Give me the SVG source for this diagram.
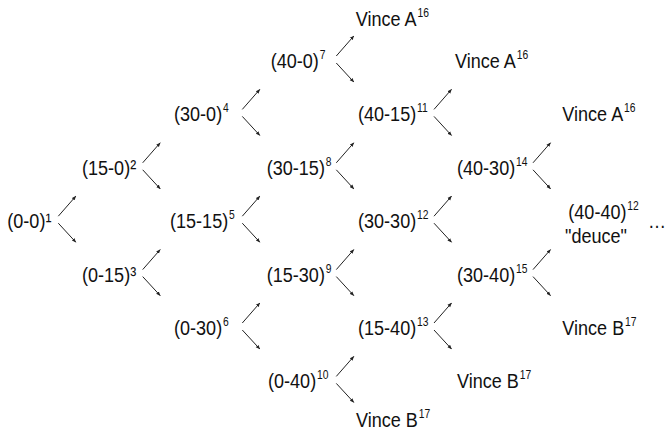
<svg xmlns="http://www.w3.org/2000/svg" width="666" height="434" viewBox="0 0 666 434">
<style>
text{font-family:"Liberation Sans",Arial,sans-serif;font-size:21px;fill:#111}
.s{font-size:12px}
.c line{stroke:#222;stroke-width:1;marker-end:url(#ah)}
</style>
<defs>
<marker id="ah" viewBox="0 0 10 10" refX="9" refY="5" markerWidth="4.5" markerHeight="4.5" orient="auto" markerUnits="userSpaceOnUse">
<path d="M0,1 L10,5 L0,9 z" fill="#222"/>
</marker>
</defs>
<rect width="666" height="434" fill="#fff"/>
<g id="connectors" class="c">
<line x1="58.3" y1="216.2" x2="75.8" y2="196.2"/><line x1="58.3" y1="223.2" x2="75.8" y2="242.2"/>
<line x1="142.7" y1="162.8" x2="160.2" y2="142.8"/><line x1="142.7" y1="169.8" x2="160.2" y2="188.8"/>
<line x1="142.7" y1="269.6" x2="160.2" y2="249.6"/><line x1="142.7" y1="276.6" x2="160.2" y2="295.6"/>
<line x1="242.3" y1="109.4" x2="259.8" y2="89.4"/><line x1="242.3" y1="116.4" x2="259.8" y2="135.4"/>
<line x1="242.3" y1="216.2" x2="259.8" y2="196.2"/><line x1="242.3" y1="223.2" x2="259.8" y2="242.2"/>
<line x1="242.3" y1="323" x2="259.8" y2="303"/><line x1="242.3" y1="330" x2="259.8" y2="349"/>
<line x1="336.3" y1="56" x2="353.8" y2="36"/><line x1="336.3" y1="63" x2="353.8" y2="82"/>
<line x1="336.3" y1="162.8" x2="353.8" y2="142.8"/><line x1="336.3" y1="169.8" x2="353.8" y2="188.8"/>
<line x1="336.3" y1="269.6" x2="353.8" y2="249.6"/><line x1="336.3" y1="276.6" x2="353.8" y2="295.6"/>
<line x1="336.3" y1="376.4" x2="353.8" y2="356.4"/><line x1="336.3" y1="383.4" x2="353.8" y2="402.4"/>
<line x1="434" y1="109.4" x2="451.5" y2="89.4"/><line x1="434" y1="116.4" x2="451.5" y2="135.4"/>
<line x1="434" y1="216.2" x2="451.5" y2="196.2"/><line x1="434" y1="223.2" x2="451.5" y2="242.2"/>
<line x1="434" y1="323" x2="451.5" y2="303"/><line x1="434" y1="330" x2="451.5" y2="349"/>
<line x1="533" y1="162.8" x2="550.5" y2="142.8"/><line x1="533" y1="169.8" x2="550.5" y2="188.8"/>
<line x1="533" y1="269.6" x2="550.5" y2="249.6"/><line x1="533" y1="276.6" x2="550.5" y2="295.6"/>
</g>
<g id="n1"><text transform="translate(7.3,228.2) scale(0.86,1)">(0-0)¹</text></g>
<g id="n2"><text transform="translate(82,174.8) scale(0.86,1)">(15-0)²</text></g>
<g id="n3"><text transform="translate(82,281.6) scale(0.86,1)">(0-15)³</text></g>
<g id="n4"><text transform="translate(174,121.4) scale(0.86,1)">(30-0)<tspan class="s" dx="1" dy="-9">4</tspan></text></g>
<g id="n5"><text transform="translate(170,228.2) scale(0.86,1)">(15-15)<tspan class="s" dx="1" dy="-9">5</tspan></text></g>
<g id="n6"><text transform="translate(174,335) scale(0.86,1)">(0-30)<tspan class="s" dx="1" dy="-9">6</tspan></text></g>
<g id="n7"><text transform="translate(270.7,68) scale(0.86,1)">(40-0)<tspan class="s" dx="1" dy="-9">7</tspan></text></g>
<g id="n8"><text transform="translate(266.7,174.8) scale(0.86,1)">(30-15)<tspan class="s" dx="1" dy="-9">8</tspan></text></g>
<g id="n9"><text transform="translate(266.7,281.6) scale(0.86,1)">(15-30)<tspan class="s" dx="1" dy="-9">9</tspan></text></g>
<g id="n10"><text transform="translate(268,388.4) scale(0.86,1)">(0-40)<tspan class="s" dx="1" dy="-9">10</tspan></text></g>
<g id="vinceA1"><text transform="translate(355.7,25.7) scale(0.86,1)">Vince A<tspan class="s" dx="1" dy="-9">16</tspan></text></g>
<g id="n11"><text transform="translate(358,121.4) scale(0.86,1)">(40-15)<tspan class="s" dx="1" dy="-9">11</tspan></text></g>
<g id="n12"><text transform="translate(358,228.2) scale(0.86,1)">(30-30)<tspan class="s" dx="1" dy="-9">12</tspan></text></g>
<g id="n13"><text transform="translate(358,335) scale(0.86,1)">(15-40)<tspan class="s" dx="1" dy="-9">13</tspan></text></g>
<g id="vinceB1"><text transform="translate(356,427) scale(0.86,1)">Vince B<tspan class="s" dx="1" dy="-9">17</tspan></text></g>
<g id="vinceA2"><text transform="translate(455,67.5) scale(0.86,1)">Vince A<tspan class="s" dx="1" dy="-9">16</tspan></text></g>
<g id="n14"><text transform="translate(457,174.8) scale(0.86,1)">(40-30)<tspan class="s" dx="1" dy="-9">14</tspan></text></g>
<g id="n15"><text transform="translate(457,281.6) scale(0.86,1)">(30-40)<tspan class="s" dx="1" dy="-9">15</tspan></text></g>
<g id="vinceB2"><text transform="translate(457,387.5) scale(0.86,1)">Vince B<tspan class="s" dx="1" dy="-9">17</tspan></text></g>
<g id="vinceA3"><text transform="translate(562.3,121) scale(0.86,1)">Vince A<tspan class="s" dx="1" dy="-9">16</tspan></text></g>
<g id="deuce"><text transform="translate(568.3,219) scale(0.86,1)">(40-40)<tspan class="s" dx="1" dy="-9">12</tspan></text>
<text transform="translate(565,243.3) scale(0.86,1)">"deuce"</text></g>
<g id="more"><text transform="translate(648,228.2) scale(0.86,1)">…</text></g>
<g id="vinceB3"><text transform="translate(562.3,335) scale(0.86,1)">Vince B<tspan class="s" dx="1" dy="-9">17</tspan></text></g>
</svg>
